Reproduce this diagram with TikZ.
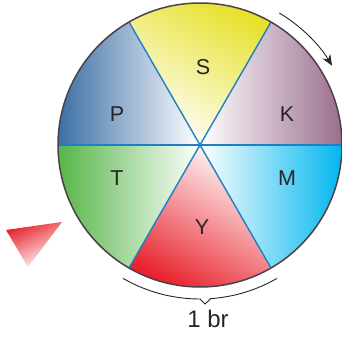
\documentclass[tikz,border=0pt]{standalone}
\usepackage{fontspec}
\setmainfont{Liberation Sans}
\usetikzlibrary{arrows.meta,calc}
\definecolor{kpurple}{HTML}{9A6E8E}
\definecolor{mcyan}{HTML}{00B6EE}
\definecolor{pblue}{HTML}{3B6FA6}
\definecolor{tgreen}{HTML}{56B548}
\definecolor{syellow}{HTML}{E6E12A}
\definecolor{yred}{HTML}{E8212B}
\definecolor{rimcol}{HTML}{4D4049}
\definecolor{spokecol}{HTML}{1E7FC3}
\tikzset{
  lbl/.style={font=\fontsize{21.5}{25}\selectfont, text=black!85, inner sep=0pt},
  biglbl/.style={font=\fontsize{24}{28}\selectfont, text=black!85, inner sep=0pt},
  rim/.style={draw=rimcol, line width=1.5pt},
  spoke/.style={draw=spokecol, line width=1.4pt},
  outarc/.style={draw=black!85, line width=0.9pt}
}
\begin{document}
\begin{tikzpicture}[x=1pt,y=1pt]
\useasboundingbox (0,0) rectangle (342,337);
\coordinate (C) at (200,192);
\def\R{142}
% sectors
\shade[left color=white, right color=kpurple] (C) -- ++(0:\R) arc[start angle=0,end angle=60,radius=\R] -- cycle;
\shade[top color=syellow, bottom color=white, shading angle=-30] (C) -- ++(60:\R) arc[start angle=60,end angle=120,radius=\R] -- cycle;
\shade[left color=pblue, right color=white] (C) -- ++(120:\R) arc[start angle=120,end angle=180,radius=\R] -- cycle;
\shade[left color=tgreen, right color=white] (C) -- ++(180:\R) arc[start angle=180,end angle=240,radius=\R] -- cycle;
\shade[top color=white, bottom color=yred, shading angle=-30] (C) -- ++(240:\R) arc[start angle=240,end angle=300,radius=\R] -- cycle;
\shade[left color=white, right color=mcyan] (C) -- ++(300:\R) arc[start angle=300,end angle=360,radius=\R] -- cycle;
% spokes
\coordinate (a0) at ($(C)+(0:\R)$);
\coordinate (a60) at ($(C)+(60:\R)$);
\coordinate (a120) at ($(C)+(120:\R)$);
\coordinate (a180) at ($(C)+(180:\R)$);
\coordinate (a240) at ($(C)+(240:\R)$);
\coordinate (a300) at ($(C)+(300:\R)$);
\draw[spoke] (a0) -- (a180);
\draw[spoke] (a60) -- (a240);
\draw[spoke] (a120) -- (a300);
\draw[rim] (C) circle[radius=\R];
% labels
\node[lbl] (S) at (203,270) {S};
\node[lbl] (P) at (117,223) {P};
\node[lbl] (K) at (287,223) {K};
\node[lbl] (T) at (117,159) {T};
\node[lbl] (M) at (287,159) {M};
\node[lbl] (Y) at (202,110) {Y};
% rotation arrow
\coordinate (rs) at ($(C)+(59:154)$);
\draw[outarc, -{Stealth[length=11pt,width=9pt]}] (rs) arc[start angle=59,end angle=31,radius=154];
% brace
\coordinate (bl) at ($(C)+(240:154)$);
\coordinate (tip) at ($(C)+(5,-159)$);
\coordinate (bm2) at ($(C)+(274:154)$);
\draw[outarc] (bl) arc[start angle=240,end angle=270,radius=154] -- (tip) -- (bm2) arc[start angle=274,end angle=300,radius=154];
\node[biglbl] (br) at (208,18) {1 br};
% red triangle
\shade[top color=yred, bottom color=white, shading angle=25] (6,107) -- (62,115) -- (28,70) -- cycle;
\end{tikzpicture}
\end{document}
